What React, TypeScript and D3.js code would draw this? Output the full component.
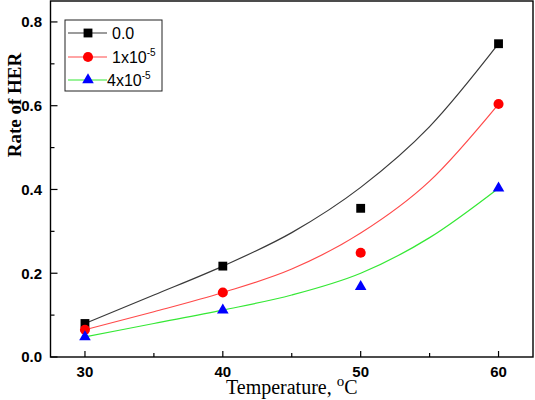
import React, { useEffect, useRef } from 'react'
import * as d3 from 'd3'

// measured points
const temperatures = [30, 40, 50, 60]
const rateBlank = [0.08, 0.217, 0.355, 0.748]
const rateLow = [0.065, 0.154, 0.249, 0.604]
const rateHigh = [0.048, 0.112, 0.168, 0.403]

// fitted curves, sampled every 5 degrees
const fitTemps = [30, 35, 40, 45, 50, 55, 60]
const fitBlank = [0.08, 0.148, 0.217, 0.297, 0.405, 0.55, 0.748]
const fitLow = [0.065, 0.108, 0.154, 0.21, 0.296, 0.42, 0.604]
const fitHigh = [0.048, 0.08, 0.112, 0.148, 0.2, 0.285, 0.403]

const xTicks = [30, 40, 50, 60]
const xMinor = [35, 45, 55]
const yTicks = [0, 0.2, 0.4, 0.6, 0.8]
const yMinor = [0.1, 0.3, 0.5, 0.7]

const seriesNames = ['0.0', '1x10', '4x10']
const seriesExp = ['', '-5', '-5']

const width = 535
const height = 400

export default function App() {
  const ref = useRef<SVGSVGElement>(null)

  useEffect(() => {
    const svg = d3.select(ref.current)
    svg.selectAll('*').remove()

    const left = 50.5, right = 533, top = 1, bottom = 357
    const x = d3.scaleLinear().domain([27.5, 62.5]).range([left, right])
    const y = d3.scaleLinear().domain([0, 0.85]).range([bottom, top])

    const series = [
      { pts: rateBlank, fit: fitBlank, line: '#3a3a3a', fill: '#000000', sym: d3.symbolSquare, size: 78 },
      { pts: rateLow, fit: fitLow, line: '#ff4a4a', fill: '#ff0000', sym: d3.symbolCircle, size: 80 },
      { pts: rateHigh, fit: fitHigh, line: '#35e835', fill: '#0000ff', sym: d3.symbolTriangle, size: 58 },
    ]

    const line = d3
      .line<number>()
      .x((d, i) => x(fitTemps[i]))
      .y((d) => y(d))
      .curve(d3.curveMonotoneX)

    series.forEach((s) => {
      svg
        .append('path')
        .attr('d', line(s.fit))
        .attr('fill', 'none')
        .attr('stroke', s.line)
        .attr('stroke-width', 1.2)

      svg
        .append('g')
        .selectAll('path')
        .data(s.pts)
        .enter()
        .append('path')
        .attr('d', d3.symbol().type(s.sym).size(s.size)())
        .attr('transform', (d, i) => `translate(${x(temperatures[i])},${y(d)})`)
        .attr('fill', s.fill)
    })

    // frame
    svg
      .append('rect')
      .attr('x', left)
      .attr('y', top)
      .attr('width', right - left)
      .attr('height', bottom - top)
      .attr('fill', 'none')
      .attr('stroke', '#000')
      .attr('stroke-width', 1.4)

    // ticks point inward
    const tickG = svg.append('g').attr('stroke', '#000').attr('stroke-width', 1.2)
    tickG
      .selectAll('.xt')
      .data(xTicks)
      .enter()
      .append('line')
      .attr('x1', (d) => x(d))
      .attr('x2', (d) => x(d))
      .attr('y1', bottom)
      .attr('y2', bottom - 6)
    tickG
      .selectAll('.xm')
      .data(xMinor)
      .enter()
      .append('line')
      .attr('x1', (d) => x(d))
      .attr('x2', (d) => x(d))
      .attr('y1', bottom)
      .attr('y2', bottom - 4)
    tickG
      .selectAll('.yt')
      .data(yTicks)
      .enter()
      .append('line')
      .attr('x1', left)
      .attr('x2', left + 7)
      .attr('y1', (d) => y(d))
      .attr('y2', (d) => y(d))
    tickG
      .selectAll('.ym')
      .data(yMinor)
      .enter()
      .append('line')
      .attr('x1', left)
      .attr('x2', left + 4)
      .attr('y1', (d) => y(d))
      .attr('y2', (d) => y(d))

    const labelFont = '"Liberation Sans", Arial, sans-serif'

    svg
      .append('g')
      .selectAll('text')
      .data(xTicks)
      .enter()
      .append('text')
      .attr('x', (d) => x(d))
      .attr('y', 377)
      .attr('text-anchor', 'middle')
      .attr('font-family', labelFont)
      .attr('font-weight', 'bold')
      .attr('font-size', 15)
      .text((d) => d)

    svg
      .append('g')
      .selectAll('text')
      .data(yTicks)
      .enter()
      .append('text')
      .attr('x', 42)
      .attr('y', (d) => y(d))
      .attr('dy', '0.36em')
      .attr('text-anchor', 'end')
      .attr('font-family', labelFont)
      .attr('font-weight', 'bold')
      .attr('font-size', 15)
      .text((d) => d.toFixed(1))

    // axis titles
    const xTitle = svg
      .append('text')
      .attr('x', (left + right) / 2)
      .attr('y', 394)
      .attr('text-anchor', 'middle')
      .attr('font-family', '"Liberation Serif", "Times New Roman", serif')
      .attr('font-size', 20)
    xTitle.append('tspan').text('Temperature, ')
    xTitle.append('tspan').attr('dy', -8).attr('font-size', 15).text('o')
    xTitle.append('tspan').attr('dy', 8).text('C')

    svg
      .append('text')
      .attr('transform', 'translate(21,105) rotate(-90)')
      .attr('text-anchor', 'middle')
      .attr('font-family', '"Liberation Serif", "Times New Roman", serif')
      .attr('font-weight', 'bold')
      .attr('font-size', 19)
      .text('Rate of HER')

    // legend
    const legend = svg.append('g')
    legend
      .append('rect')
      .attr('x', 65)
      .attr('y', 20)
      .attr('width', 97)
      .attr('height', 71)
      .attr('fill', '#fff')
      .attr('stroke', '#222')
      .attr('stroke-width', 1)

    const rowY = [33, 57, 80]
    series.forEach((s, i) => {
      legend
        .append('line')
        .attr('x1', 68)
        .attr('x2', 107)
        .attr('y1', rowY[i])
        .attr('y2', rowY[i])
        .attr('stroke', s.line)
        .attr('stroke-width', 1.2)
      legend
        .append('path')
        .attr('d', d3.symbol().type(s.sym).size(s.size)())
        .attr('transform', `translate(88,${rowY[i]})`)
        .attr('fill', s.fill)
      const t = legend
        .append('text')
        .attr('x', i === 2 ? 107 : 112)
        .attr('y', rowY[i] + 6)
        .attr('font-family', labelFont)
        .attr('font-size', 16)
      t.append('tspan').text(seriesNames[i])
      if (seriesExp[i]) {
        t.append('tspan').attr('dy', -7).attr('font-size', 10).text(seriesExp[i])
      }
    })
  }, [])

  return (
    <svg
      ref={ref}
      width={width}
      height={height}
      style={{ position: 'absolute', left: 0, top: 0, background: '#fff' }}
    />
  )
}
